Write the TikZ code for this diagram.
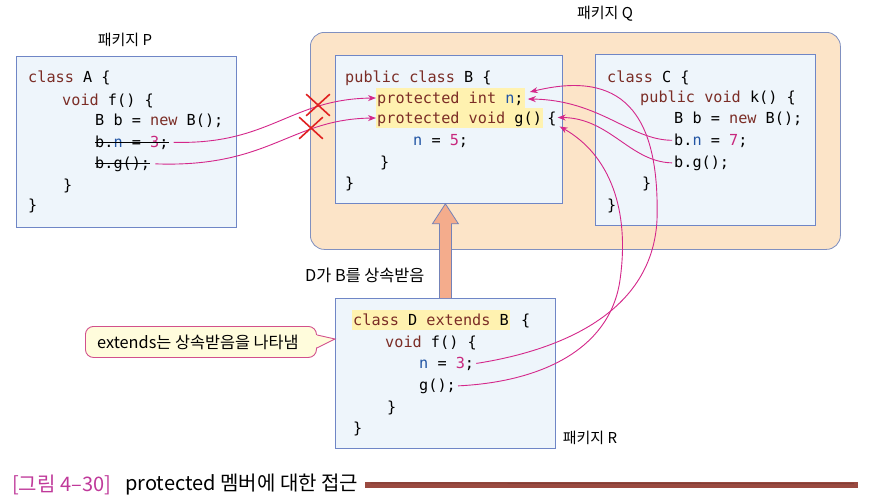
\documentclass[tikz,border=0pt]{standalone}
\usepackage{fontspec}
\setmonofont{DejaVu Sans Mono}
\newfontfamily\krfont{Noto Sans CJK KR}
\usetikzlibrary{arrows.meta,calc,shapes.misc}
\definecolor{boxfill}{HTML}{EEF5FB}
\definecolor{boxline}{HTML}{6F86C6}
\definecolor{qfill}{HTML}{FCE4C8}
\definecolor{qline}{HTML}{8090C0}
\definecolor{kwc}{HTML}{7B2D26}
\definecolor{idc}{HTML}{2255A4}
\definecolor{numc}{HTML}{C8287E}
\definecolor{arrowc}{HTML}{D4278A}
\definecolor{xred}{HTML}{E02020}
\definecolor{hlc}{HTML}{FFF2B0}
\definecolor{callfill}{HTML}{FFFCDC}
\definecolor{callc}{HTML}{D2508C}
\definecolor{inhfill}{HTML}{F4AC8C}
\definecolor{inhline}{HTML}{7382B8}
\definecolor{capc}{HTML}{C0399A}
\definecolor{brownc}{HTML}{9A4A40}
\newcommand\ck[1]{\textcolor{kwc}{#1}}
\newcommand\ci[1]{\textcolor{idc}{#1}}
\newcommand\cn[1]{\textcolor{numc}{#1}}
\tikzset{
  code/.style={anchor=base west, inner sep=0pt, font=\ttfamily\fontsize{15.2}{18}\selectfont},
  hlcode/.style={code, fill=hlc, inner xsep=1pt, inner ysep=0pt, text height=15pt, text depth=5pt},
  codebox/.style={draw=boxline, fill=boxfill, line width=0.8pt, anchor=north west, inner sep=0pt},
  acc/.style={draw=arrowc, line width=0.9pt, -{Stealth[length=8pt,width=6pt]}},
  lbl/.style={font=\krfont\fontsize{15}{18}\selectfont, inner sep=0pt},
  biglbl/.style={font=\krfont\fontsize{16.3}{19}\selectfont, inner sep=0pt},
  captext/.style={font=\krfont\fontsize{20}{24}\selectfont, anchor=west, inner sep=0pt},
  xmark/.style={cross out, draw=xred, line width=1.6pt, minimum width=22pt, minimum height=20pt, inner sep=0pt},
  strike/.style={draw=black, line width=0.9pt},
}
\begin{document}
\begin{tikzpicture}[x=1pt,y=-1pt]
\useasboundingbox (0,0) rectangle (870,501);
\fill[white] (0,0) rectangle (870,501);

% package Q frame
\node[draw=qline, fill=qfill, line width=0.8pt, rounded corners=14pt, minimum width=530pt, minimum height=217pt, anchor=north west, inner sep=0pt] (qbox) at (310,32) {};

% code boxes
\node[codebox, minimum width=220pt, minimum height=171pt] (abox) at (16,56) {};
\node[codebox, minimum width=227pt, minimum height=148pt] (bbox) at (335,55) {};
\node[codebox, minimum width=220pt, minimum height=171pt] (cbox) at (595,54) {};
\node[codebox, minimum width=220pt, minimum height=150pt] (dbox) at (335,298) {};

% labels
\node[lbl] (lp) at (125,40) {패키지 P};
\node[lbl] (lq) at (605,14) {패키지 Q};
\node[lbl] (lr) at (590,438) {패키지 R};
\node[biglbl, anchor=west] (ld) at (305,275) {D가 B를 상속받음};

% inheritance arrow
\coordinate (ib) at (dbox.north);
\coordinate (it) at (ib |- bbox.south);
\filldraw[fill=inhfill, draw=inhline, line width=0.8pt]
  ($(ib)+(-6,0)$) -- ($(it)+(-6,20)$) -- ($(it)+(-13,20)$) -- (it)
  -- ($(it)+(13,20)$) -- ($(it)+(6,20)$) -- ($(ib)+(6,0)$);

% class A
\node[code] (a1) at (28,82) {\ck{class} A \{};
\node[code] (a2) at (62,105) {\ck{void} f() \{};
\node[code] (a3) at (95,125) {B b = \ck{new} B();};
\node[code] (a4) at (95,147) {b.\ci{n} = \cn{3};};
\node[code] (a5) at (95,168) {b.g();};
\node[code] (a6) at (63,190) {\}};
\node[code] (a7) at (28,210) {\}};
\draw[strike] ($(a4.base west)+(0,-4.5)$) -- ($(a4.base east)+(0,-4.5)$);
\draw[strike] ($(a5.base west)+(0,-4.5)$) -- ($(a5.base east)+(0,-4.5)$);

% class B
\node[code] (b1) at (345,82) {\ck{public class} B \{};
\node[hlcode] (b2) at (376,103) {\ck{protected int} \ci{n};};
\node[hlcode] (b3) at (376,123) {\ck{protected void} g()\hspace{5pt}};
\node[code] (b3b) at ($(b3.base east)+(4,0)$) {\{};
\node[code] (b4) at (413,145) {\ci{n} = \cn{5};};
\node[code] (b5) at (380,167) {\}};
\node[code] (b6) at (345,188) {\}};

% class C
\node[code] (c1) at (607,82) {\ck{class} C \{};
\node[code] (c2) at (640,102) {\ck{public void} k() \{};
\node[code] (c3) at (674,123) {B b = \ck{new} B();};
\node[code] (c4) at (674,145) {b.\ci{n} = \cn{7};};
\node[code] (c5) at (674,167) {b.g();};
\node[code] (c6) at (642,188) {\}};
\node[code] (c7) at (607,210) {\}};

% class D
\node[hlcode] (d1) at (352,325) {\ck{class} D \ck{extends} B};
\node[code] (d1b) at ($(d1.base east)+(11,0)$) {\{};
\node[code] (d2) at (385,347) {\ck{void} f() \{};
\node[code] (d3) at (419,368) {\ci{n} = \cn{3};};
\node[code] (d4) at (419,390) {g();};
\node[code] (d5) at (387,412) {\}};
\node[code] (d6) at (353,433) {\}};

% callout
\node[draw=callc, fill=callfill, line width=0.9pt, rounded corners=8pt, minimum width=231pt, minimum height=31pt, anchor=north west, inner sep=0pt] (cbub) at (85,326) {};
\node[biglbl] (ctext) at ($(cbub.center)+(-3,0)$) {extends는 상속받음을 나타냄};
\coordinate (ctip) at (dbox.west |- 0,339);
\fill[callfill] ($(cbub.east)+(-1.5,-7)$) -- (ctip) -- ($(cbub.east)+(-1.5,6)$) -- cycle;
\draw[callc, line width=0.9pt] ($(cbub.east)+(0,-7)$) -- (ctip) -- ($(cbub.east)+(0,6)$);

% accesses from A (denied)
\draw[acc] ($(a4.east)+(5,0)$) .. controls (270,145) and (290,99) .. (b2.west);
\draw[acc] ($(a5.east)+(5,0)$) .. controls (270,168) and (290,119) .. (b3.west);
\node[xmark] (x1) at (318,105) {};
\node[xmark] (x2) at (311,128) {};

% accesses from C
\draw[acc] ($(c4.west)+(-2,0)$) .. controls (630,140) and (600,100) .. ($(b2.east)+(3,1)$);
\draw[acc] ($(c5.west)+(-2,0)$) .. controls (630,162) and (610,118) .. ($(b3b.east)+(1,-1)$);

% accesses from D
\draw[acc] ($(d3.east)+(2,0)$) .. controls (550,352) and (652,318) .. (657,220)
  .. controls (660,110) and (620,70) .. ($(b2.east)+(5,-6)$);
\draw[acc] ($(d4.east)+(2,0)$) .. controls (540,382) and (610,350) .. (620,280)
  .. controls (630,210) and (610,155) .. ($(b3b.east)+(3,8)$);

% caption
\node[captext, text=capc] (capnum) at (12,485) {[그림 4–30]};
\node[captext] (captxt) at (125,485) {protected 멤버에 대한 접근};
\coordinate (capend) at (858,485);
\draw[brownc, line width=6.5pt] ($(captxt.east)+(7,0)$) -- (capend);
\draw[brownc!70!black, line width=1.2pt, opacity=0.5] ($(captxt.east)+(12,-2)$) -- ($(capend)+(-4,-1.5)$);
\end{tikzpicture}
\end{document}
